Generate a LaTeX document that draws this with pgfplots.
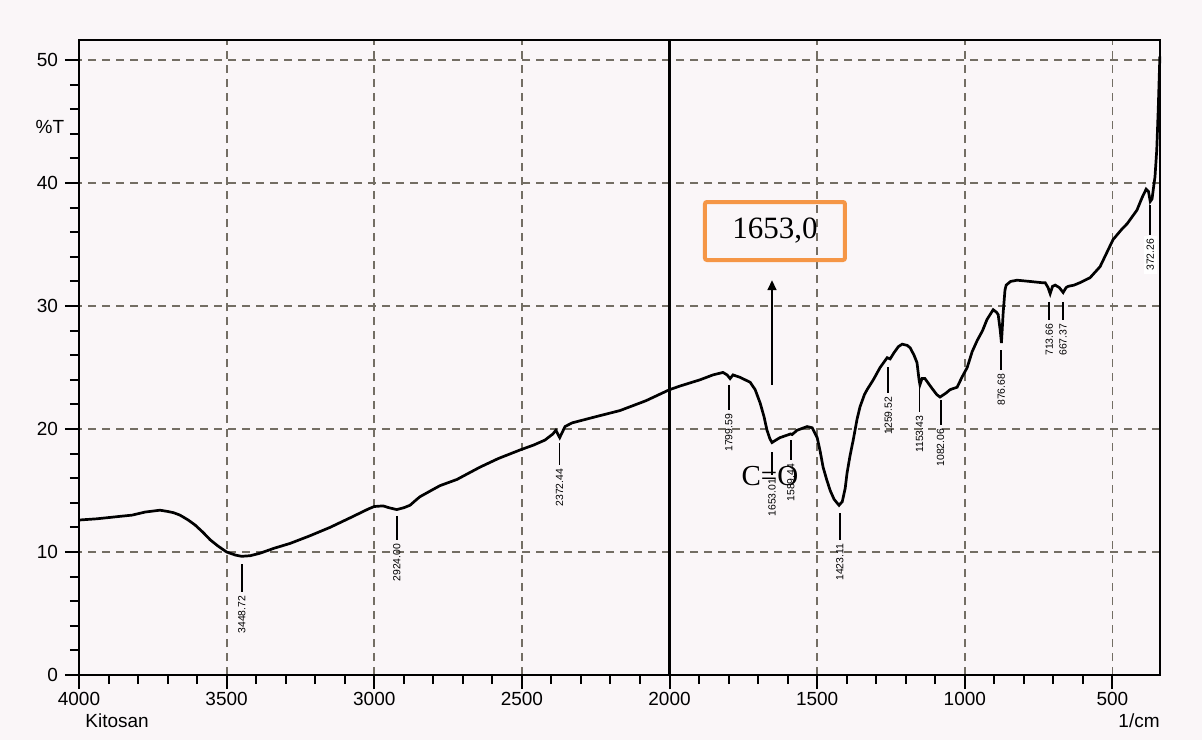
\documentclass[border=0pt]{standalone}
\usepackage{pgfplots}
\pgfplotsset{compat=1.18}
\usepackage{fontspec}
\setmainfont{Liberation Sans}
\newfontfamily\serif{Liberation Serif}
\usetikzlibrary{arrows.meta}
\definecolor{bg}{RGB}{250,246,248}
\definecolor{gridc}{RGB}{115,110,100}
\definecolor{orng}{RGB}{245,150,70}
\pgfplotstableread{
x y
4000 12.6
3940 12.7
3900 12.8
3861 12.9
3820 13.0
3776 13.25
3726 13.4
3700 13.3
3680 13.2
3658 13.0
3630 12.6
3607 12.2
3580 11.6
3556 11.0
3530 10.5
3500 10.0
3470 9.75
3449 9.65
3420 9.7
3387 9.9
3340 10.3
3285 10.7
3220 11.3
3150 12.0
3080 12.8
3020 13.5
3000 13.7
2970 13.75
2950 13.6
2924 13.45
2900 13.6
2879 13.8
2860 14.2
2845 14.5
2800 15.1
2777 15.4
2720 15.9
2642 16.9
2580 17.6
2506 18.3
2460 18.7
2422 19.1
2395 19.6
2385 19.9
2372 19.3
2360 19.9
2354 20.2
2330 20.5
2250 21.0
2168 21.5
2080 22.3
2000 23.2
1964 23.5
1897 24.0
1853 24.4
1819 24.6
1805 24.4
1795 24.1
1785 24.4
1761 24.2
1727 23.8
1710 23.2
1693 22.1
1680 21.0
1670 19.9
1660 19.2
1653 18.9
1640 19.1
1626 19.3
1602 19.5
1590 19.6
1585 19.55
1568 19.9
1534 20.2
1517 20.1
1500 19.3
1490 18.2
1480 16.9
1468 15.9
1456 15.0
1443 14.3
1433 14.0
1426 13.8
1415 14.1
1405 15.2
1399 16.4
1389 17.8
1378 19.1
1365 20.8
1355 21.8
1340 22.8
1331 23.2
1310 24.0
1287 25.0
1263 25.8
1253 25.7
1240 26.2
1225 26.7
1212 26.9
1195 26.8
1185 26.6
1172 26.0
1162 25.4
1155 24.0
1152 23.6
1145 24.1
1135 24.1
1120 23.6
1111 23.3
1095 22.8
1084 22.6
1065 22.9
1050 23.2
1026 23.4
1010 24.2
992 25.0
975 26.3
958 27.2
940 28.0
925 28.9
904 29.7
893 29.5
887 29.3
880 28.0
876 27.0
870 29.5
864 31.3
860 31.7
845 32.0
823 32.1
780 32.0
740 31.9
728 31.9
718 31.5
711 31.0
703 31.6
694 31.7
680 31.5
667 31.1
657 31.5
650 31.6
630 31.7
610 31.9
576 32.3
542 33.2
520 34.3
498 35.4
470 36.2
450 36.7
417 37.8
400 38.8
386 39.5
378 39.3
372 38.5
366 38.7
360 39.8
356 40.5
350 42.7
345 46.0
339.5 50.3
}\spectrum
\newcommand{\pk}[4]{\draw[line width=0.9pt] (axis cs:#1,#2) -- (axis cs:#1,#3) node[rotate=90, anchor=east, inner sep=1.5pt, font=\fontsize{5.2}{5.2}\selectfont] {#4};}
\begin{document}
\begin{tikzpicture}
\fill[bg] (-39.5pt,-32.5pt) rectangle (561.5pt,337.5pt);
\useasboundingbox (-39.5pt,-32.5pt) rectangle (561.5pt,337.5pt);
\begin{axis}[
  at={(0,0)}, anchor=south west,
  scale only axis, width=540.5pt, height=317.5pt,
  x dir=reverse, xmin=339, xmax=4000, ymin=0, ymax=51.63,
  xtick={500,1000,1500,2000,2500,3000,3500,4000},
  ytick={0,10,20,30,40,50},
  minor x tick num=4, minor y tick num=4,
  tick align=outside, tick pos=left,
  major tick length=7pt, minor tick length=4.5pt,
  every tick/.style={black, line width=1pt},
  axis line style={line width=1.1pt},
  grid=major,
  major grid style={gridc, line width=0.9pt, dash pattern=on 4pt off 3pt},
  /pgf/number format/assume math mode=true,
  /pgf/number format/1000 sep={},
  tick label style={font=\fontsize{9.5}{10}\selectfont},
  xticklabel style={yshift=-0.5pt, inner sep=1pt},
  clip=false,
]
\addplot[black, line width=1.35pt, mark=none] table[x=x, y=y] {\spectrum};
\draw[black, line width=1.1pt] (axis cs:2000,0) -- (axis cs:2000,51.63);
\pk{3448.72}{9.02}{6.75}{3448.72}
\pk{2924.00}{12.93}{10.98}{2924.00}
\pk{2372.44}{18.86}{17.07}{2372.44}
\pk{1799.59}{23.58}{21.54}{1799.59}
\pk{1653.01}{18.13}{16.26}{1653.01}
\pk{1589.44}{19.1}{17.48}{1589.44}
\pk{1423.11}{13.17}{10.98}{1423.11}
\pk{1259.52}{25.04}{22.93}{1259.52}
\pk{1153.43}{23.58}{21.38}{1153.43}
\pk{1082.06}{22.36}{20.33}{1082.06}
\pk{876.68}{26.42}{24.8}{876.68}
\pk{713.66}{30.33}{28.86}{713.66}
\pk{667.37}{30.33}{28.86}{667.37}
\draw[line width=0.9pt] (axis cs:372.26,38.2) -- (axis cs:372.26,35.77) node[rotate=90, anchor=east, inner sep=1.5pt, fill=white, font=\fontsize{5.2}{5.2}\selectfont] {372.26};
\draw[-{Triangle[length=5pt,width=4.5pt]}, line width=0.8pt] (axis cs:1653,23.6) -- (axis cs:1653,32.1);
\node[draw=orng, line width=2pt, rounded corners=1pt, minimum width=70pt, minimum height=29pt, font=\serif\fontsize{15.5}{16}\selectfont] at (axis cs:1643,36.1) {1653,0};
\node[font=\serif\fontsize{14.5}{15}\selectfont] at (axis cs:1660,16.2) {C=O};
\node[font=\fontsize{9.5}{10}\selectfont] at (axis cs:4000,44.55) [xshift=-14.5pt] {\%T};
\node[font=\fontsize{9.5}{10}\selectfont, anchor=base west, inner sep=0pt] at (axis cs:4000,0) [yshift=-26pt, xshift=3pt] {Kitosan};
\node[font=\fontsize{9.5}{10}\selectfont, anchor=base east, inner sep=0pt] at (axis cs:339,0) [yshift=-26pt] {1/cm};
\end{axis}
\end{tikzpicture}
\end{document}
